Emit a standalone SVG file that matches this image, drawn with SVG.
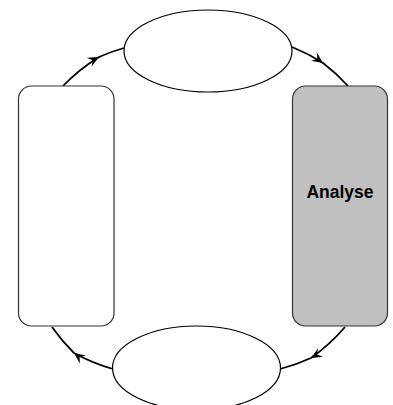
<svg xmlns="http://www.w3.org/2000/svg" width="393" height="405" viewBox="0 0 393 405">
<style>
.box{stroke:#333;stroke-width:1.2}
.ell{fill:#fff;stroke:#000;stroke-width:1.2}
.con{fill:none;stroke:#000;stroke-width:1.8;marker-mid:url(#ah)}
.lbl{font-family:"Liberation Sans",Arial,sans-serif;font-weight:bold;font-size:17.5px;fill:#000}
</style>
<defs>
<marker id="ah" viewBox="-12 -7 14 14" markerWidth="14" markerHeight="14" refX="0" refY="0" orient="auto" markerUnits="userSpaceOnUse">
<path d="M0,0 L-11,-5 L-7,0 L-11,5 Z" fill="#000"/>
</marker>
</defs>
<rect width="393" height="405" fill="#fff"/>
<g id="connectors">
<path class="con" d="M63,86 A185 185 0 0 1 99,57 A185 185 0 0 1 124,48"/>
<path class="con" d="M292,47 A185 185 0 0 1 323,63 A185 185 0 0 1 348,86"/>
<path class="con" d="M345,327 A185 185 0 0 1 311,358 A185 185 0 0 1 280,369"/>
<path class="con" d="M113,369 A185 185 0 0 1 74,353 A185 185 0 0 1 52,327"/>
</g>
<g id="top"><ellipse class="ell" cx="208" cy="51" rx="84" ry="41"/></g>
<g id="left"><rect class="box" x="18.5" y="86" width="95.5" height="240" rx="13" fill="#fff"/></g>
<g id="analyse"><rect class="box" x="292.5" y="86" width="95" height="240" rx="13" fill="#c0c0c0"/>
<text class="lbl" x="340" y="198" text-anchor="middle">Analyse</text></g>
<g id="bottom"><ellipse class="ell" cx="196.5" cy="368" rx="84" ry="42"/></g>
</svg>
